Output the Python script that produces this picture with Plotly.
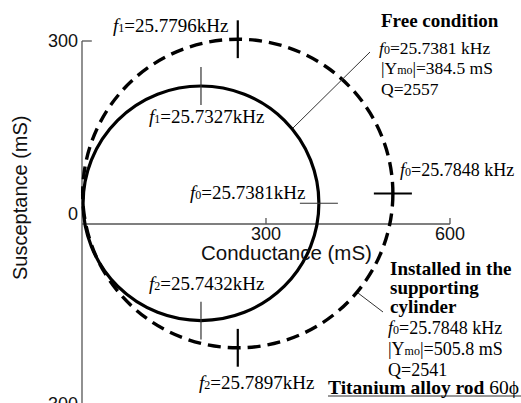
import plotly.graph_objects as go

# ---- data ----
circle_names = ["Free condition", "Installed in the supporting cylinder"]
circle_center_G = [194.0, 254.0]      # mS
circle_center_B = [34.0, 50.0]        # mS
circle_diameter = [384.5, 505.8]      # |Ymo| (mS)
f0_labels = ["25.7381", "25.7848"]
f1_labels = ["25.7327", "25.7796"]
f2_labels = ["25.7432", "25.7897"]
q_values = [2557, 2541]
x_ticks = [300, 600]
y_ticks = [300, 0, -300]

W, H = 521, 403
X_RANGE = [-133.7, 715.8]
Y_RANGE = [-293.4, 367.2]

SERIF = "Liberation Serif"
SANS = "Liberation Sans"


def px(x, y):
    return x / W, 1 - y / H


fig = go.Figure()
shapes = []
annotations = []

# axes (crossing at origin)
axis_col = "#555555"
shapes.append(dict(type="line", xref="x", yref="y", x0=0, x1=600, y0=0, y1=0,
                   line=dict(color=axis_col, width=1.3)))
shapes.append(dict(type="line", xref="x", yref="y", x0=0, x1=0, y0=300, y1=-320,
                   line=dict(color=axis_col, width=1.3)))
shapes.append(dict(type="line", xref="x", yref="y", x0=0, x1=16, y0=300, y1=300,
                   line=dict(color=axis_col, width=1.3)))
for xv in x_ticks:
    shapes.append(dict(type="line", xref="x", yref="y", x0=xv, x1=xv, y0=0, y1=10,
                       line=dict(color=axis_col, width=1.3)))
    annotations.append(dict(x=xv, y=0, xref="x", yref="y", text=str(xv), showarrow=False,
                            xanchor="center", yanchor="middle", yshift=-10,
                            font=dict(family=SANS, size=18, color="#111")))
for yv in y_ticks:
    if yv < Y_RANGE[0]:
        # below the visible range: place relative to the page so it is not hidden
        scale = H / (Y_RANGE[1] - Y_RANGE[0])
        ypx = (Y_RANGE[1] - yv) * scale - 3
        xx, yy = px(80, ypx)
        annotations.append(dict(x=xx, y=yy, xref="paper", yref="paper", text=str(yv),
                                showarrow=False, xanchor="right", yanchor="middle",
                                font=dict(family=SANS, size=18, color="#111")))
        continue
    annotations.append(dict(x=0, y=yv, xref="x", yref="y", text=str(yv), showarrow=False,
                            xanchor="right", yanchor="middle", xshift=-2,
                            yshift=10 if yv == 0 else 0,
                            font=dict(family=SANS, size=18, color="#111")))

# axis titles
ax, ay = px(286, 252)
annotations.append(dict(x=ax, y=ay, xref="paper", yref="paper", text="Conductance (mS)",
                        showarrow=False, xanchor="center", yanchor="middle",
                        font=dict(family=SANS, size=20.5, color="#111")))
ax, ay = px(20, 198)
annotations.append(dict(x=ax, y=ay, xref="paper", yref="paper", text="Susceptance (mS)",
                        showarrow=False, xanchor="center", yanchor="middle", textangle=-90,
                        font=dict(family=SANS, size=20, color="#111")))

# admittance circles and frequency markers
styles = [dict(dash="solid", width=3.2, mk_col="#333333", mk_w=1.2),
          dict(dash="13px,7px", width=3.4, mk_col="#000000", mk_w=2.2)]
half = 31
for i in range(2):
    cx, cy, r = circle_center_G[i], circle_center_B[i], circle_diameter[i] / 2
    st = styles[i]
    shapes.append(dict(type="circle", xref="x", yref="y", x0=cx - r, x1=cx + r,
                       y0=cy - r, y1=cy + r,
                       line=dict(color="black", width=st["width"], dash=st["dash"])))
    # f1 (top), f2 (bottom), f0 (right)
    shapes.append(dict(type="line", xref="x", yref="y", x0=cx, x1=cx,
                       y0=cy + r - half, y1=cy + r + half,
                       line=dict(color=st["mk_col"], width=st["mk_w"])))
    shapes.append(dict(type="line", xref="x", yref="y", x0=cx, x1=cx,
                       y0=cy - r - half, y1=cy - r + half,
                       line=dict(color=st["mk_col"], width=st["mk_w"])))
    shapes.append(dict(type="line", xref="x", yref="y", x0=cx + r - half, x1=cx + r + half,
                       y0=cy, y1=cy,
                       line=dict(color=st["mk_col"], width=st["mk_w"])))


def label(x, y, text, anchor="left", size=19):
    xx, yy = px(x, y)
    annotations.append(dict(x=xx, y=yy, xref="paper", yref="paper", text=text,
                            showarrow=False, xanchor=anchor, yanchor="middle",
                            font=dict(family=SERIF, size=size, color="black")))


def fsub(n, size=12):
    return "<i>f</i><span style='font-size:%dpx'>%d</span>" % (size, n)


def ymo(v, size=12):
    return "|Y<span style='font-size:%dpx'>mo</span>|=%.1f mS" % (size, v)


# marker labels
label(230, 25, fsub(1) + "=" + f1_labels[1] + "kHz", "right")
label(147, 117, fsub(1) + "=" + f1_labels[0] + "kHz")
label(188, 192, fsub(0) + "=" + f0_labels[0] + "kHz")
label(398, 170, fsub(0) + "=" + f0_labels[1] + " kHz", size=18)
label(147, 283, fsub(2) + "=" + f2_labels[0] + "kHz")
label(197, 382, fsub(2) + "=" + f2_labels[1] + "kHz")

# Free condition block
label(379, 20, "<b>" + circle_names[0] + "</b>", size=19)
label(377, 48, fsub(0) + "=" + f0_labels[0] + " kHz", size=17.5)
label(379, 68, ymo(circle_diameter[0]), size=17.5)
label(379, 89, "Q=%d" % q_values[0], size=17.5)

# Installed block
label(388, 268, "<b>Installed in the</b>", size=19)
label(388, 287, "<b>supporting</b>", size=19)
label(388, 306, "<b>cylinder</b>", size=19)
label(386, 328, fsub(0) + "=" + f0_labels[1] + " kHz", size=18)
label(386, 349, ymo(circle_diameter[1]), size=18)
label(386, 370, "Q=%d" % q_values[1], size=18)
label(521, 387, "<b>Titanium alloy rod</b> 60ϕ", "right", size=19.5)

# leader lines and underline (page pixels)
for (x0, y0, x1, y1) in [(293, 128, 370, 52), (358, 293, 383, 312), (328, 396, 521, 396)]:
    a0, b0 = px(x0, y0)
    a1, b1 = px(x1, y1)
    shapes.append(dict(type="line", xref="paper", yref="paper", x0=a0, y0=b0, x1=a1, y1=b1,
                       line=dict(color="#333333", width=1)))

fig.update_layout(
    width=W, height=H, margin=dict(l=0, r=0, t=0, b=0),
    paper_bgcolor="white", plot_bgcolor="white",
    xaxis=dict(range=X_RANGE, visible=False, fixedrange=True),
    yaxis=dict(range=Y_RANGE, visible=False, fixedrange=True),
    shapes=shapes, annotations=annotations, showlegend=False,
)
fig.write_html("out.html", config=dict(displayModeBar=False))
